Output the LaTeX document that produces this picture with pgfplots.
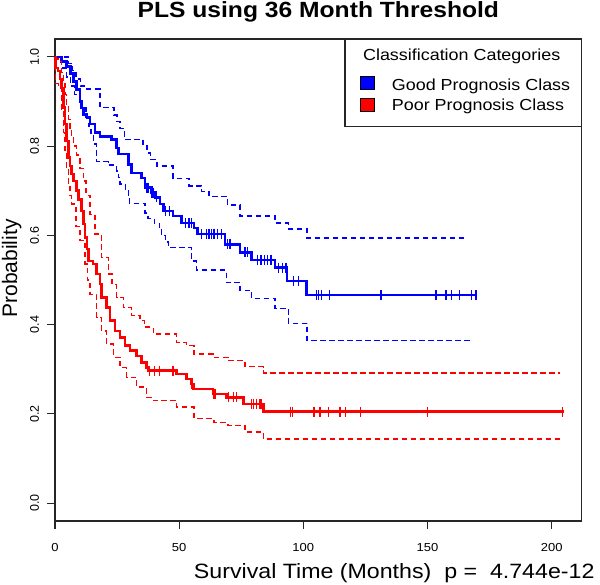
\documentclass[border=0pt]{standalone}
\usepackage{fontspec}
\setmainfont{Liberation Sans}[FakeStretch=1.12]
\newfontfamily\rotfont{Liberation Sans}
\usepackage{pgfplots}
\pgfplotsset{compat=1.18}
\begin{document}
\begin{tikzpicture}
\begin{axis}[
  at={(0,0)}, anchor=south west,
  scale only axis, width=526.7bp, height=482bp,
  xmin=0, xmax=212.1, ymin=-0.04, ymax=1.04,
  xtick={0,50,100,150,200},
  ytick={0,0.2,0.4,0.6,0.8,1.0},
  tick align=outside, major tick length=8bp,
  xtick pos=bottom, ytick pos=left,
  axis line style={line width=1.2bp, black!85},
  every tick/.style={line width=1.2bp, black!85},
  /pgf/number format/assume math mode=true,
  xticklabel style={font=\fontsize{11.6bp}{13bp}\selectfont, anchor=base, yshift=-22bp},
  yticklabel style={font=\rotfont\fontsize{12.5bp}{14bp}\selectfont, rotate=90, anchor=base, yshift=8bp,
    /pgf/number format/fixed, /pgf/number format/fixed zerofill, /pgf/number format/precision=1},
  clip=false,
]
% Good prognosis: main curve and confidence band
\addplot[blue, line width=2.5bp, const plot mark left] coordinates {
(0,1.0)(2.7,0.99)(4.7,0.978)(6.2,0.963)(7.4,0.945)(8.7,0.927)(10.1,0.90)(10.7,0.885)(11.5,0.871)(12.8,0.864)
(14.1,0.849)(16.1,0.83)(18.1,0.822)(22.8,0.815)(24.8,0.796)(25.5,0.782)(29.5,0.759)(30.9,0.740)(34.9,0.729)
(36.2,0.707)(38.8,0.696)(40.5,0.685)(42.3,0.670)(43.6,0.655)(47.5,0.643)(51,0.628)(56,0.617)(57.4,0.603)
(68.5,0.580)(74.5,0.562)(79.2,0.545)(88.6,0.528)(93.4,0.498)(101.3,0.466)(169.5,0.466)};
\addplot[blue, line width=1.4bp, dash pattern=on 5.5bp off 3.5bp, const plot mark left] coordinates {
(0,1.0)(5.4,0.985)(7,0.97)(8.5,0.95)(10.2,0.935)(11.7,0.928)(18.1,0.886)(23.8,0.87)(25,0.855)(26.2,0.84)
(28,0.815)(35.5,0.80)(37,0.785)(38.5,0.77)(41,0.755)(47.5,0.728)(54,0.711)(59,0.698)(62,0.687)(69.5,0.668)
(74.5,0.643)(88.6,0.628)(94,0.614)(101.5,0.594)(166,0.594)};
\addplot[blue, line width=1.4bp, dash pattern=on 5.5bp off 3.5bp, const plot mark left] coordinates {
(0,1.0)(2.7,0.975)(4.7,0.955)(6.2,0.935)(7.8,0.915)(10.1,0.90)(11,0.885)(12.5,0.865)(13.4,0.845)(14.5,0.825)
(15.5,0.805)(16.8,0.765)(21.5,0.758)(24.8,0.744)(25.5,0.73)(26.2,0.715)(28.4,0.70)(29.5,0.685)(30,0.672)
(36.2,0.65)(37.5,0.638)(40,0.627)(42,0.615)(43,0.60)(44.5,0.585)(45.6,0.573)(55,0.543)(57,0.522)(69,0.494)
(74.5,0.477)(79.2,0.459)(88.6,0.436)(94,0.403)(101.5,0.364)(168,0.364)};
\addplot[blue, only marks, mark=|, mark size=5bp, mark options={line width=1.3bp}] coordinates {
(37,0.707)(37.5,0.707)(38.8,0.696)(39.5,0.696)(41,0.685)(44.5,0.655)(46,0.655)(52.5,0.628)(54,0.628)(55,0.628)
(59,0.603)(61,0.603)(62,0.603)(63,0.603)(64,0.603)(65.5,0.603)(67,0.603)(69.5,0.580)(70.5,0.580)(76.5,0.562)
(77.5,0.562)(81.5,0.545)(83,0.545)(84.5,0.545)(85.5,0.545)(87,0.545)(90,0.528)(91.5,0.528)(93,0.528)(96,0.498)
(98,0.498)(105.4,0.466)(106,0.466)(107.4,0.466)(110.5,0.466)(131,0.466)(131.6,0.466)(153.4,0.466)(157.4,0.466)
(159.7,0.466)(162.8,0.466)(167.8,0.466)(169.5,0.466)};
% Poor prognosis
\addplot[red, line width=2.5bp, const plot mark left] coordinates {
(0,1.0)(0.3,0.975)(1.3,0.968)(2,0.95)(2.7,0.93)(3.4,0.886)(4.0,0.849)(4.7,0.811)(5.4,0.774)(6.0,0.755)
(6.7,0.737)(7.4,0.722)(8.7,0.70)(9.5,0.68)(10.7,0.655)(11.4,0.625)(12.1,0.595)(12.8,0.57)(13.4,0.543)
(15.4,0.536)(16.8,0.513)(18.1,0.491)(18.8,0.461)(20.8,0.438)(22.1,0.409)(24.2,0.386)(26.2,0.371)(28.2,0.353)
(30.2,0.342)(32.9,0.330)(34.9,0.315)(36.9,0.304)(37.6,0.297)(49,0.289)(53,0.278)(55,0.267)(55.7,0.256)
(63.7,0.245)(69,0.237)(76,0.222)(83.9,0.205)(205,0.205)};
\addplot[red, line width=1.4bp, dash pattern=on 5.5bp off 3.5bp, const plot mark left] coordinates {
(0,1.0)(0.3,0.995)(1.3,0.99)(2.7,0.965)(3.4,0.94)(4,0.915)(4.7,0.89)(5.4,0.86)(6.0,0.84)(6.7,0.82)(7.4,0.80)
(8.7,0.78)(10,0.75)(11.4,0.722)(12.5,0.69)(14.1,0.647)(16.1,0.603)(18.8,0.55)(21.5,0.513)(23,0.49)(24.8,0.461)
(27.5,0.438)(30.9,0.42)(34.2,0.409)(36,0.395)(39.6,0.379)(49,0.36)(53,0.353)(56,0.334)(63.7,0.327)(69.6,0.319)
(76.5,0.306)(84,0.292)(203.4,0.292)};
\addplot[red, line width=1.4bp, dash pattern=on 5.5bp off 3.5bp, const plot mark left] coordinates {
(0,1.0)(0.3,0.94)(1.3,0.93)(2.7,0.88)(3.4,0.83)(4.0,0.79)(4.7,0.75)(5.4,0.715)(6.0,0.69)(6.7,0.67)(8.5,0.62)
(10.1,0.588)(12.1,0.536)(13,0.50)(14.1,0.468)(16.8,0.416)(18.8,0.386)(20.8,0.357)(23.5,0.327)(26.2,0.304)
(28.9,0.282)(32.9,0.26)(36.9,0.237)(39.6,0.23)(49,0.215)(56,0.19)(64,0.181)(69.7,0.174)(76.5,0.159)(84,0.144)(204,0.144)};
\addplot[red, only marks, mark=|, mark size=5bp, mark options={line width=1.3bp}] coordinates {
(38,0.297)(40.2,0.297)(42,0.297)(47.5,0.297)(55,0.267)(64,0.245)(64.6,0.245)(70,0.237)(72,0.237)(73.2,0.237)
(79.2,0.222)(80,0.222)(81.2,0.222)(82.5,0.222)(83.2,0.222)(94.9,0.205)(95.7,0.205)(104.3,0.205)(106.7,0.205)
(110.2,0.205)(114.8,0.205)(117,0.205)(123.1,0.205)(150,0.205)(204.5,0.205)};
\end{axis}
% title
\node[anchor=base, font=\bfseries\fontsize{22bp}{26bp}\selectfont] at (263.3bp,503.7bp) {PLS using 36 Month Threshold};
% axis labels
\node[anchor=base east, font=\fontsize{20.7bp}{24bp}\selectfont] at (543bp,-57.3bp) {Survival Time (Months)\ \ p =\ \ 4.744e-12};
\node[anchor=base, rotate=90, font=\rotfont\fontsize{21bp}{24bp}\selectfont] at (-38bp,252.5bp) {Probability};
% legend
\draw[line width=1.1bp, black!85, fill=white] (290bp,394.3bp) rectangle (526.7bp,482bp);
\node[anchor=base, font=\fontsize{16bp}{19bp}\selectfont] at (406.7bp,460.3bp) {Classification Categories};
\draw[black, line width=0.8bp, fill=blue] (305bp,431.8bp) rectangle (319bp,444.2bp);
\draw[black, line width=0.8bp, fill=red] (305bp,409.8bp) rectangle (319bp,422.2bp);
\node[anchor=base west, inner sep=0pt, font=\fontsize{16bp}{19bp}\selectfont] at (336.7bp,430.3bp) {Good Prognosis Class};
\node[anchor=base west, inner sep=0pt, font=\fontsize{16bp}{19bp}\selectfont] at (336.7bp,410bp) {Poor Prognosis Class};
\pgfresetboundingbox
\path[use as bounding box] (-55bp,-64bp) rectangle (545bp,521bp);
\end{tikzpicture}
\end{document}
